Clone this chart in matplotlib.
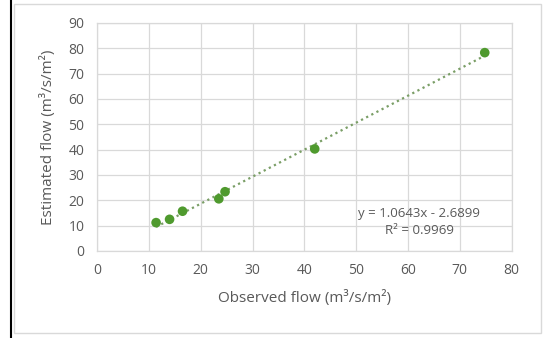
import numpy as np
import matplotlib
matplotlib.use('Agg')
import matplotlib.pyplot as plt
from matplotlib.lines import Line2D
from matplotlib.patches import Rectangle

plt.rcParams['font.family'] = ['Open Sans', 'DejaVu Sans']

observed = [11.4, 14.0, 16.5, 23.5, 24.7, 42.0, 74.8]
estimated = [11.2, 12.5, 15.7, 20.6, 23.4, 40.3, 78.3]
eq_text = 'y = 1.0643x - 2.6899\nR² = 0.9969'

grey = '#595959'
grid_c = '#d9d9d9'
green = '#4f9a2e'

fig = plt.figure(figsize=(5.48, 3.38), dpi=100)
ax = fig.add_axes([97/548, 1 - 251/338, (511.7 - 97)/548, (251 - 23)/338])

# chart frame and left black line
fig.add_artist(Rectangle((14/548, 1 - 333/338), (541 - 14)/548, (333 - 4)/338,
                         transform=fig.transFigure, fill=False, ec='#d9d9d9', lw=1))
fig.add_artist(Line2D([10.5/548, 10.5/548], [0, 1], transform=fig.transFigure,
                      color='black', lw=1.5))

# trendline from least squares fit
k, b = np.polyfit(observed, estimated, 1)
xs = np.array([min(observed), max(observed)])
ax.plot(xs, k*xs + b, linestyle=(0, (1, 1.6)), color='#7a9e66', lw=1.6, zorder=2)
ax.scatter(observed, estimated, s=48, color=green, zorder=3, edgecolors='none')

ax.set_xlim(0, 80)
ax.set_ylim(0, 90)
ax.set_xticks(range(0, 81, 10))
ax.set_yticks(range(0, 91, 10))
ax.grid(True, color=grid_c, lw=0.9)
ax.set_axisbelow(True)
for s in ax.spines.values():
    s.set_color(grid_c)
    s.set_linewidth(0.9)
ax.tick_params(length=0, colors=grey, labelsize=10, pad=9)

ax.set_xlabel('Observed flow (m³/s/m²)', color=grey, fontsize=11, labelpad=8)
ax.set_ylabel('Estimated flow (m³/s/m²)', color=grey, fontsize=11, labelpad=9)

ax.text(62.2, 11.4, eq_text, color=grey, fontsize=9.5, ha='center', va='center',
        linespacing=1.35, multialignment='center')

fig.savefig('out.png', dpi=100)
